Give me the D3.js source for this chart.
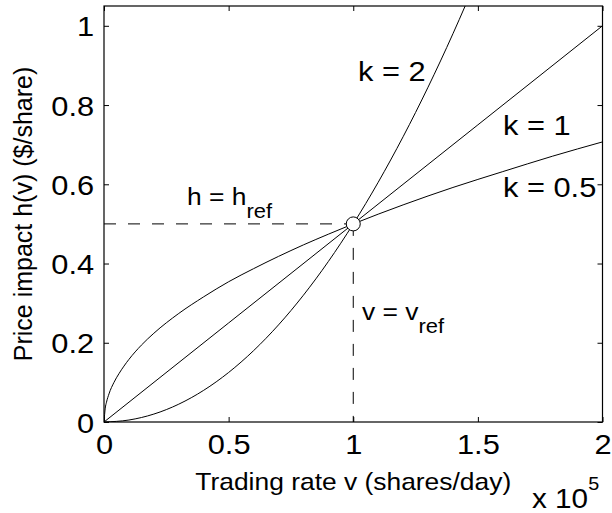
<!DOCTYPE html>
<html>
<head>
<meta charset="utf-8">
<script src="https://cdn.jsdelivr.net/npm/d3@7"></script>
<style>
  html, body { margin: 0; padding: 0; background: #fff; }
  svg { display: block; }
  text { font-family: "Liberation Sans", Arial, Helvetica, sans-serif; fill: #000; }
</style>
</head>
<body>
<svg id="chart" width="612" height="513"></svg>
<script>
// Trading rate in units of 1e5 shares/day, price impact in $/share
const rateK05 = [0, 0.005, 0.01, 0.02, 0.04, 0.06, 0.08, 0.1, 0.15, 0.2, 0.3, 0.4, 0.5, 0.6, 0.7, 0.8, 0.9, 1.0, 1.2, 1.4, 1.6, 1.8, 2.0];
const impactK05 = [0, 0.035, 0.05, 0.071, 0.1, 0.122, 0.141, 0.158, 0.194, 0.224, 0.274, 0.316, 0.354, 0.387, 0.418, 0.447, 0.474, 0.5, 0.548, 0.592, 0.632, 0.671, 0.707];

const rateK1 = [0, 0.5, 1.0, 1.5, 2.0];
const impactK1 = [0, 0.25, 0.5, 0.75, 1.0];

const rateK2 = [0, 0.1, 0.2, 0.3, 0.4, 0.5, 0.6, 0.7, 0.8, 0.9, 1.0, 1.1, 1.2, 1.3, 1.4, 1.5];
const impactK2 = [0, 0.005, 0.02, 0.045, 0.08, 0.125, 0.18, 0.245, 0.32, 0.405, 0.5, 0.605, 0.72, 0.845, 0.98, 1.125];

const curveLabels = ["k = 0.5", "k = 1", "k = 2"];

const refRate = 1.0;
const refImpact = 0.5;

const xTicks = [0, 0.5, 1, 1.5, 2];
const xTickLabels = ["0", "0.5", "1", "1.5", "2"];
const yTicks = [0, 0.2, 0.4, 0.6, 0.8, 1];
const yTickLabels = ["0", "0.2", "0.4", "0.6", "0.8", "1"];

const xTitle = "Trading rate v (shares/day)";
const yTitle = "Price impact h(v)  ($/share)";

// ---- layout ----
const svg = d3.select("#chart");
const pl = 104, pr = 602.5, pt = 6, pb = 422;
const tickFont = 28, labelFont = 24, noteFont = 28, subFont = 20;
const wide = "scale(1.1,1)";   // glyphs are drawn slightly wide

const x = d3.scaleLinear().domain([0, 2]).range([pl, pr]);
const y = d3.scaleLinear().domain([0, 1.05]).range([pb, pt]);

// place a text element at (tx, ty) with widened glyphs
function placeWide(sel, tx, ty) {
  return sel.attr("x", 0).attr("y", 0).attr("transform", `translate(${tx},${ty}) ${wide}`);
}

svg.append("defs").append("clipPath").attr("id", "plotClip")
  .append("rect").attr("x", pl).attr("y", pt)
  .attr("width", pr - pl).attr("height", pb - pt);

// ---- axes (ticks point inward, box on all four sides) ----
const xb = svg.append("g").attr("transform", `translate(0,${pb})`)
  .call(d3.axisBottom(x).tickValues(xTicks).tickSizeInner(-5).tickSizeOuter(0)
    .tickPadding(12).tickFormat((d, i) => xTickLabels[i]));
const xt = svg.append("g").attr("transform", `translate(0,${pt})`)
  .call(d3.axisTop(x).tickValues(xTicks).tickSizeInner(-5).tickSizeOuter(0).tickFormat(""));
const yl = svg.append("g").attr("transform", `translate(${pl},0)`)
  .call(d3.axisLeft(y).tickValues(yTicks).tickSizeInner(-5).tickSizeOuter(0)
    .tickPadding(9).tickFormat((d, i) => yTickLabels[i]));
const yr = svg.append("g").attr("transform", `translate(${pr},0)`)
  .call(d3.axisRight(y).tickValues(yTicks).tickSizeInner(-5).tickSizeOuter(0).tickFormat(""));

[xb, xt, yl, yr].forEach(g => {
  g.select(".domain").remove();
  g.selectAll(".tick line").attr("stroke", "#000").attr("stroke-width", 1);
  g.selectAll(".tick text").attr("font-size", tickFont).attr("transform", wide)
    .style("font-family", '"Liberation Sans", Arial, sans-serif').attr("fill", "#000");
});
xb.selectAll(".tick text").attr("dy", "0.71em");
yl.selectAll(".tick text").attr("dy", "0.36em");

svg.append("rect").attr("x", pl).attr("y", pt)
  .attr("width", pr - pl).attr("height", pb - pt)
  .attr("fill", "none").attr("stroke", "#000").attr("stroke-width", 1.2);

// ---- reference guides ----
const guides = svg.append("g").attr("stroke", "#000").attr("stroke-width", 1)
  .attr("stroke-dasharray", "12,12").attr("fill", "none");
guides.append("line").attr("x1", x(0)).attr("x2", x(refRate))
  .attr("y1", y(refImpact)).attr("y2", y(refImpact));
guides.append("line").attr("x1", x(refRate)).attr("x2", x(refRate))
  .attr("y1", y(refImpact)).attr("y2", y(0));

// ---- impact curves ----
const series = [
  { rate: rateK05, impact: impactK05 },
  { rate: rateK1, impact: impactK1 },
  { rate: rateK2, impact: impactK2 }
];
const line = d3.line().x(d => x(d[0])).y(d => y(d[1])).curve(d3.curveMonotoneX);
const curves = svg.append("g").attr("clip-path", "url(#plotClip)");
series.forEach(s => {
  curves.append("path")
    .attr("d", line(s.rate.map((r, i) => [r, s.impact[i]])))
    .attr("fill", "none").attr("stroke", "#000").attr("stroke-width", 1);
});

svg.append("circle").attr("cx", x(refRate)).attr("cy", y(refImpact)).attr("r", 7)
  .attr("fill", "#fff").attr("stroke", "#000").attr("stroke-width", 1);

// ---- annotations ----
const notes = svg.append("g");
placeWide(notes.append("text"), 358, 81).attr("font-size", noteFont).text(curveLabels[2]);
placeWide(notes.append("text"), 503, 135).attr("font-size", noteFont).text(curveLabels[1]);
placeWide(notes.append("text"), 503, 197).attr("font-size", noteFont).text(curveLabels[0]);

const hRef = placeWide(notes.append("text"), 187, 205).attr("font-size", 24);
hRef.append("tspan").text("h = h");
hRef.append("tspan").attr("font-size", subFont).attr("dy", 13).text("ref");

const vRef = placeWide(notes.append("text"), 362, 320).attr("font-size", 24);
vRef.append("tspan").text("v = v");
vRef.append("tspan").attr("font-size", subFont).attr("dy", 13).text("ref");

// ---- axis titles ----
placeWide(svg.append("text"), (pl + pr) / 2, 490)
  .attr("text-anchor", "middle").attr("font-size", labelFont).text(xTitle);
svg.append("text").attr("transform", `translate(32,${(pt + pb) / 2}) rotate(-90)`)
  .attr("text-anchor", "middle").attr("font-size", 25).text(yTitle);

const expo = placeWide(svg.append("text"), 532, 508).attr("font-size", 27);
expo.append("tspan").text("x 10");
expo.append("tspan").attr("font-size", 18).attr("dy", -18).text("5");
</script>
</body>
</html>
